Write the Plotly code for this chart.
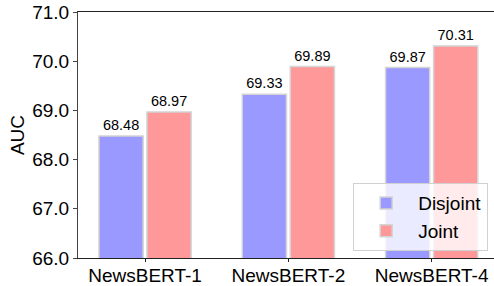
import plotly.graph_objects as go

categories = ["NewsBERT-1", "NewsBERT-2", "NewsBERT-4"]
disjoint = [68.48, 69.33, 69.87]
joint = [68.97, 69.89, 70.31]
series_names = ["Disjoint", "Joint"]
y_ticks = [66.0, 67.0, 68.0, 69.0, 70.0, 71.0]

FONT = "Liberation Sans, Arial, sans-serif"

fig = go.Figure()
for name, vals, col in [(series_names[0], disjoint, "#9999ff"), (series_names[1], joint, "#ff9999")]:
    fig.add_trace(go.Bar(
        name=name, x=categories, y=vals,
        marker=dict(color=col, line=dict(color="#d4d4d4", width=1.5)),
        text=[f"{v:.2f}" for v in vals], textposition="outside",
        textfont=dict(size=14.5, color="black", family=FONT),
        cliponaxis=False,
    ))

fig.update_layout(
    width=494, height=286,
    margin=dict(l=78, r=0, t=12, b=28, autoexpand=False),
    paper_bgcolor="white", plot_bgcolor="white",
    barmode="group", bargap=0.33, bargroupgap=0.08,
    font=dict(family=FONT, size=19, color="black"),
    showlegend=True,
    legend=dict(x=0.986, y=0.028, xanchor="right", yanchor="bottom",
                bgcolor="rgba(255,255,255,0.8)", bordercolor="#d0d0d0", borderwidth=1,
                font=dict(size=19, family=FONT), tracegroupgap=2, itemwidth=54),
    uniformtext=dict(minsize=8, mode="show"),
)
fig.update_xaxes(range=[-0.468, 2.435], showline=True, linecolor="#222", linewidth=1,
                 mirror=True, ticks="outside", ticklen=3, tickcolor="#222",
                 tickfont=dict(size=19), showgrid=False, automargin=False,
                 ticklabelstandoff=-3)
fig.update_yaxes(range=[66.0, 71.0], tickvals=y_ticks, tickformat=".1f",
                 showline=True, linecolor="#444", linewidth=1,
                 ticks="outside", ticklen=4, tickcolor="#444",
                 tickfont=dict(size=19), showgrid=False, zeroline=False, automargin=False,
                 title=dict(text="AUC", font=dict(size=19), standoff=2))

fig.write_html("out.html", config={"displayModeBar": False},
               post_script="document.body.style.margin='0';document.body.style.overflow='hidden';")
